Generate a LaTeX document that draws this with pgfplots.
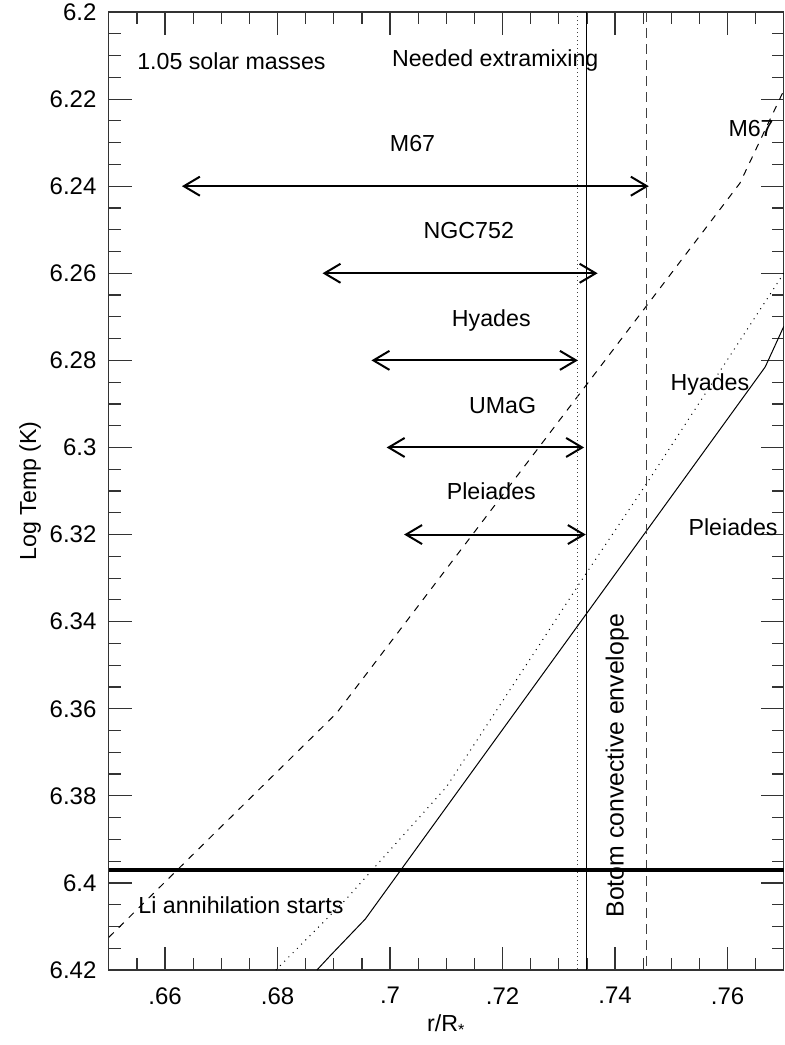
\documentclass[border=0pt]{standalone}
\usepackage{pgfplots}
\pgfplotsset{compat=1.18}
\usepackage{fontspec}
\setmainfont{Liberation Sans}
\usetikzlibrary{calc,arrows.meta}

\newcommand{\lab}{\fontsize{11.6}{14}\selectfont}
\tikzset{lbl/.style={font=\lab, inner sep=0pt}}

\begin{document}
\begin{tikzpicture}
\begin{axis}[name=ax, scale only axis, width=337.5pt, height=479pt,
  xmin=0.65, xmax=0.77, ymin=6.2, ymax=6.42, y dir=reverse,
  xtick={0.66,0.68,0.70,0.72,0.74,0.76},
  xticklabels={.66,.68,.7,.72,.74,.76},
  ytick={6.2,6.22,6.24,6.26,6.28,6.3,6.32,6.34,6.36,6.38,6.4,6.42},
  yticklabels={6.2,6.22,6.24,6.26,6.28,6.3,6.32,6.34,6.36,6.38,6.4,6.42},
  minor xtick={0.655,0.665,0.67,0.675,0.685,0.69,0.695,0.705,0.71,0.715,0.725,0.73,0.735,0.745,0.75,0.755,0.765},
  minor ytick={6.205,6.21,6.215,6.225,6.23,6.235,6.245,6.25,6.255,6.265,6.27,6.275,6.285,6.29,6.295,6.305,6.31,6.315,6.325,6.33,6.335,6.345,6.35,6.355,6.365,6.37,6.375,6.385,6.39,6.395,6.405,6.41,6.415},
  tick align=inside, major tick length=11.5pt, minor tick length=6pt,
  xtick pos=both, ytick pos=both, xticklabel pos=lower, yticklabel pos=left,
  every tick/.style={black!80, line width=0.6pt},
  axis line style={black!80, line width=0.6pt},
  xticklabel style={font=\fontsize{12}{14}\selectfont, inner sep=0pt, anchor=north, yshift=-8.5pt},
  yticklabel style={font=\fontsize{12}{14}\selectfont, inner sep=0pt, anchor=east, xshift=-6pt},
  xlabel={r/R\textsubscript{*}}, ylabel={Log Temp (K)},
  every axis x label/.style={at={(axis description cs:0.5,-0.0574)}, anchor=center, font=\lab},
  every axis y label/.style={at={(axis description cs:-0.1167,0.5)}, rotate=90, anchor=center, font=\lab},
  clip mode=individual,
]
% model curves
\addplot[black, line width=0.5pt, dash pattern=on 3.5pt off 3.5pt] coordinates {
  (0.65,6.4125) (0.6905,6.361) (0.7622,6.2393) (0.77,6.218)};
\addplot[black, line width=0.5pt, dash pattern=on 0.5pt off 2.5pt] coordinates {
  (0.6797,6.42) (0.692,6.404) (0.710,6.378) (0.7343,6.330) (0.7456,6.3083) (0.77,6.26)};
\addplot[black, line width=0.5pt] coordinates {
  (0.687,6.42) (0.6893,6.4168) (0.6956,6.4083) (0.7667,6.2815) (0.77,6.2722)};
% bottom of convective envelope
\addplot[black!75, line width=0.6pt, dash pattern=on 0.6pt off 1.4pt] coordinates {(0.7333,6.2) (0.7333,6.42)};
\addplot[black, line width=0.5pt] coordinates {(0.735,6.2) (0.735,6.42)};
\addplot[black!75, line width=0.6pt, dash pattern=on 5pt off 3pt] coordinates {(0.7456,6.2) (0.7456,6.42)};
% Li burning
\addplot[black, line width=2pt] coordinates {(0.65,6.397) (0.77,6.397)};
% extra mixing ranges
\pgfplotsset{every axis plot/.append style={>={Straight Barb[length=8pt,width=9.5pt]}}}
\addplot[black, line width=1pt, <->] coordinates {(0.663,6.24) (0.746,6.24)};
\addplot[black, line width=1pt, <->] coordinates {(0.688,6.26) (0.7369,6.26)};
\addplot[black, line width=1pt, <->] coordinates {(0.6967,6.28) (0.7334,6.28)};
\addplot[black, line width=1pt, <->] coordinates {(0.6994,6.30) (0.7345,6.30)};
\addplot[black, line width=1pt, <->] coordinates {(0.7025,6.32) (0.7348,6.32)};
% labels
\node[lbl, anchor=base west] at (axis cs:0.655,6.2131) {1.05 solar masses};
\node[lbl, anchor=base] at (axis cs:0.7187,6.2124) {Needed extramixing};
\node[lbl, anchor=base] at (axis cs:0.704,6.2321) {M67};
\node[lbl, anchor=base] at (axis cs:0.714,6.2520) {NGC752};
\node[lbl, anchor=base] at (axis cs:0.718,6.2722) {Hyades};
\node[lbl, anchor=base] at (axis cs:0.72,6.2921) {UMaG};
\node[lbl, anchor=base] at (axis cs:0.718,6.3120) {Pleiades};
\node[lbl, anchor=base west] at (axis cs:0.7601,6.2287) {M67};
\node[lbl, anchor=base west] at (axis cs:0.7498,6.2869) {Hyades};
\node[lbl, anchor=base west] at (axis cs:0.753,6.3202) {Pleiades};
\node[lbl, anchor=base west] at (axis cs:0.6552,6.407) {Li annihilation starts};
\node[lbl, font=\fontsize{12.4}{14}\selectfont, rotate=90, anchor=center] at (axis cs:0.7404,6.3731) {Botom convective envelope};
\end{axis}
\pgfresetboundingbox
\path ($(ax.south west)+(-54.4pt,-37.5pt)$) rectangle ($(ax.north east)+(0.1pt,6pt)$);
\end{tikzpicture}
\end{document}
